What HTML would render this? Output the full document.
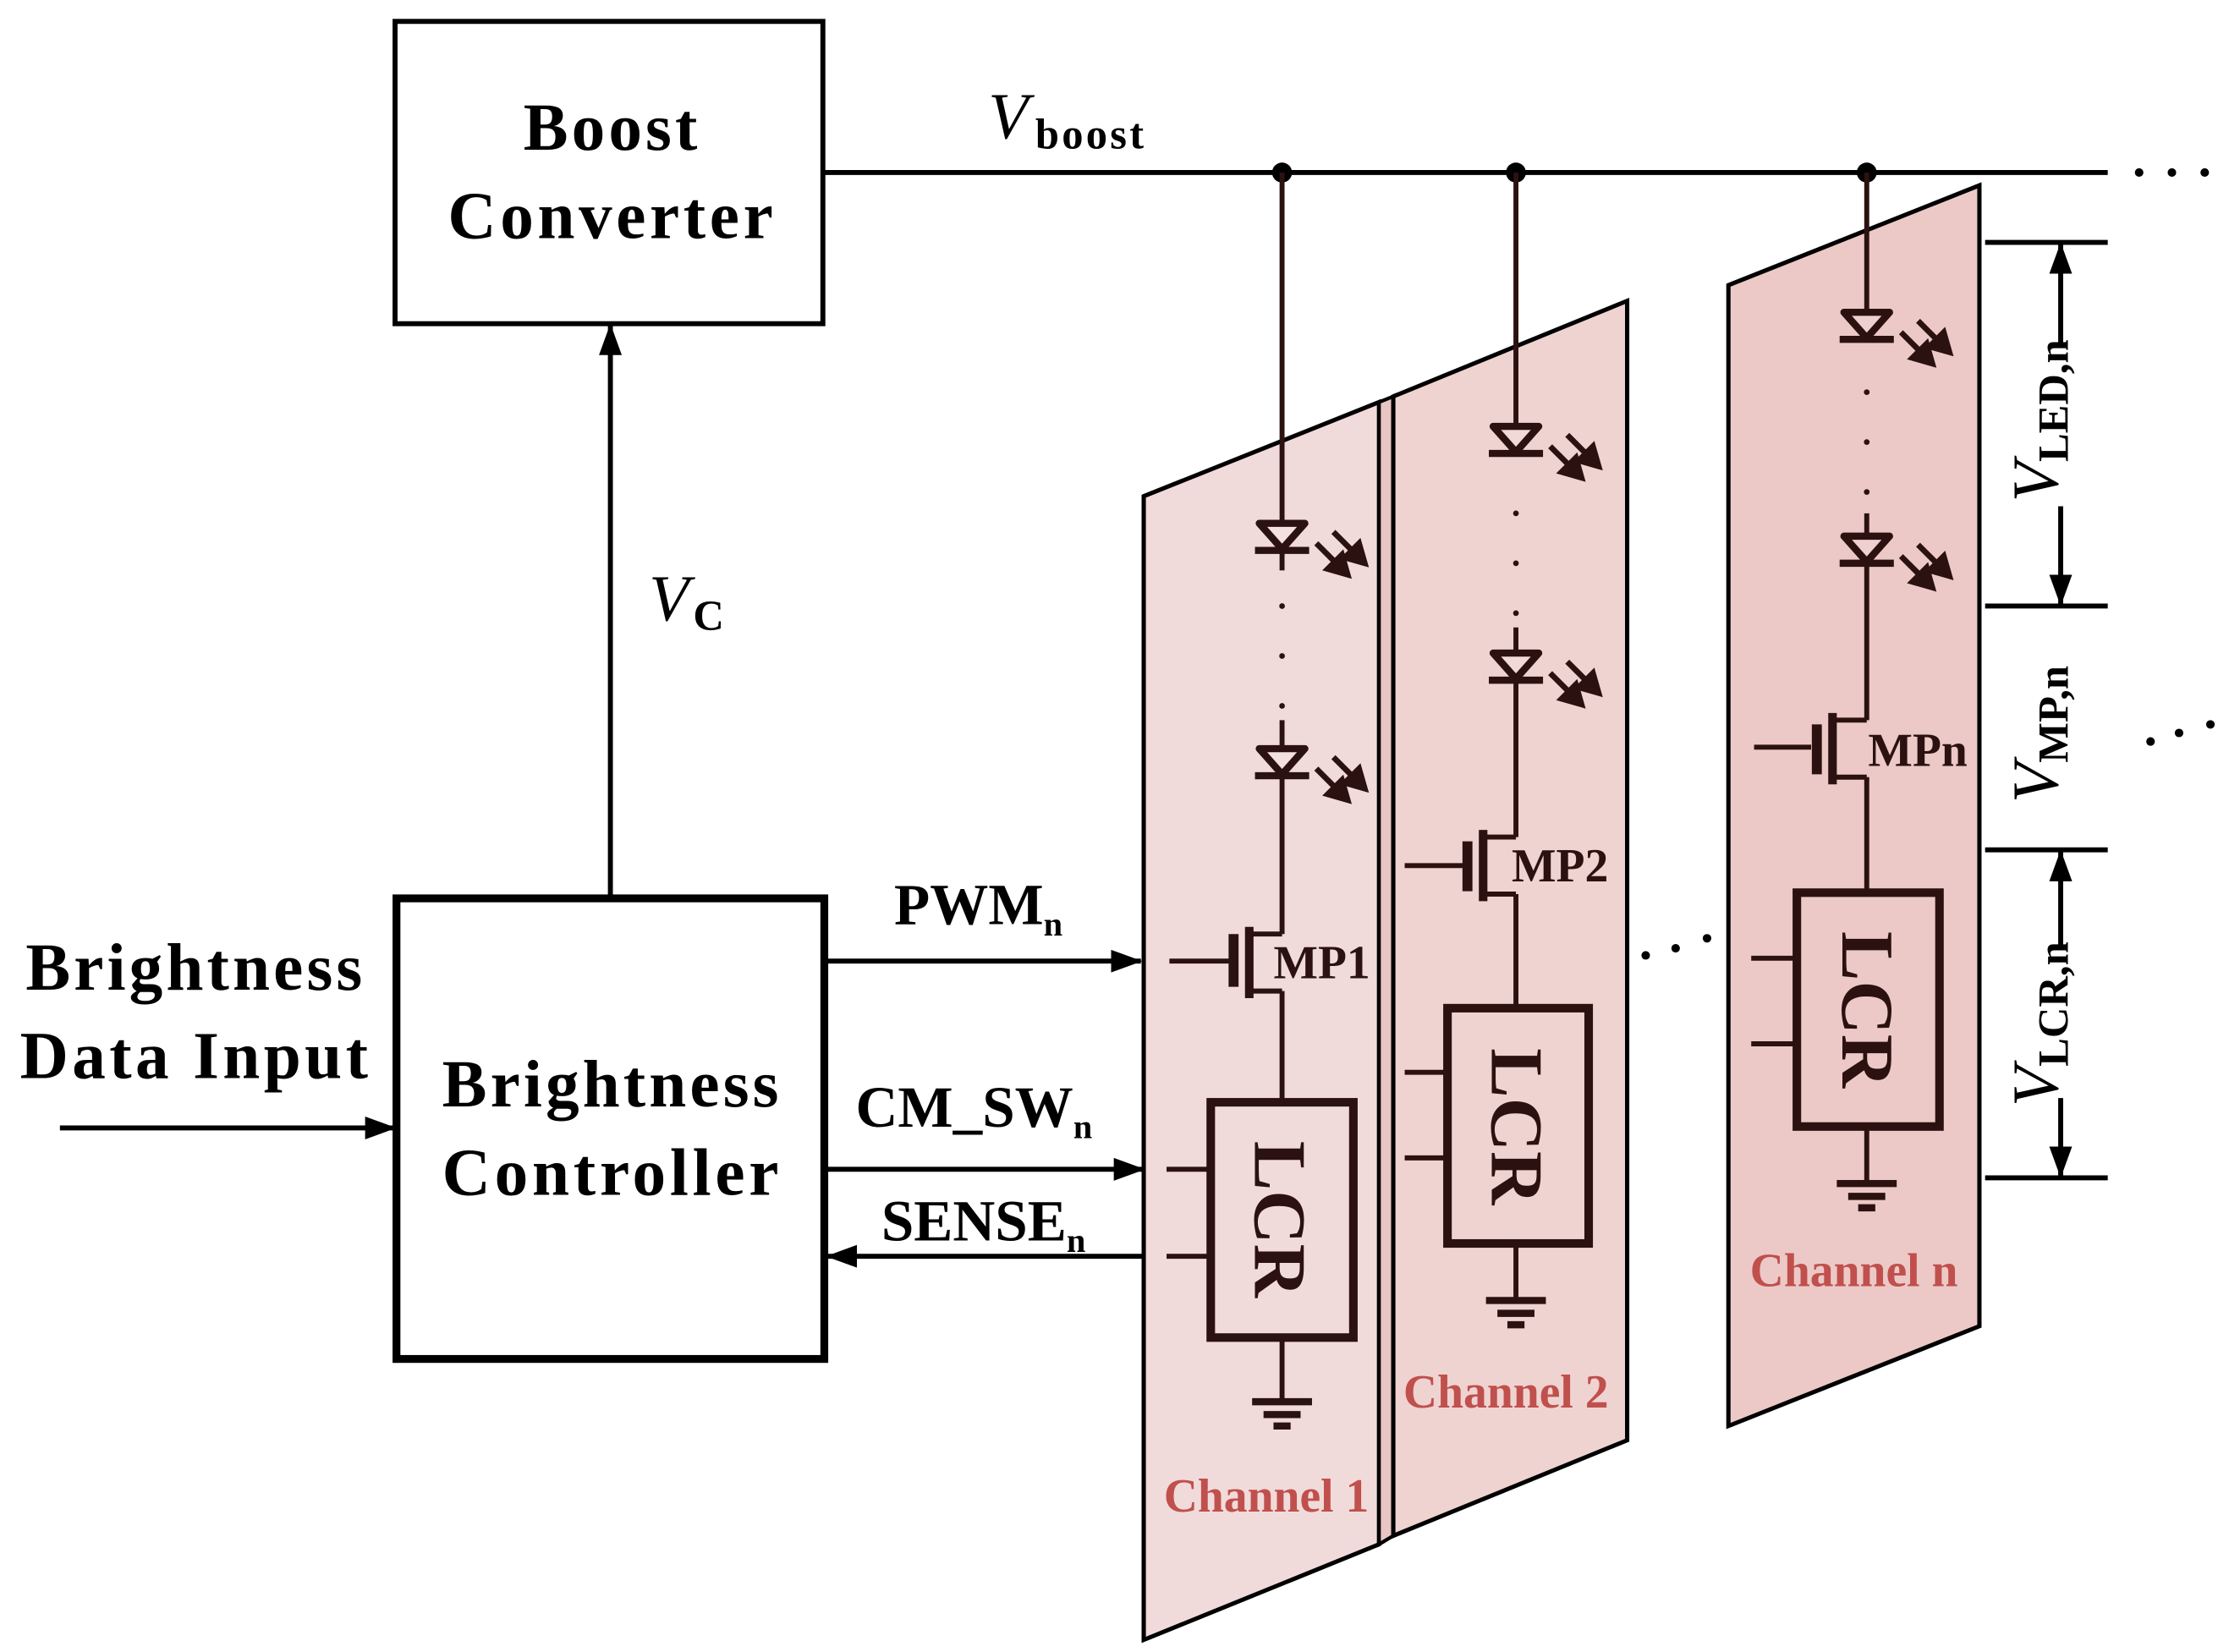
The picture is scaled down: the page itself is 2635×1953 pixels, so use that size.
<!DOCTYPE html>
<html><head><style>html,body{margin:0;padding:0;background:#fff}svg{display:block}</style></head>
<body>
<svg width="2635" height="1953" viewBox="0 0 1563 1158.5" xmlns="http://www.w3.org/2000/svg" font-family="Liberation Serif, serif" font-weight="bold">
<defs>
<g id="led">
 <polygon points="-16,2 16,2 0,20" fill="#fff" fill-opacity="0.15" stroke="#2b1210" stroke-width="5" stroke-linejoin="round"/>
 <line x1="-19" y1="21" x2="19" y2="21" stroke="#2b1210" stroke-width="5"/>
 <g stroke="#2b1210" stroke-width="4" fill="#2b1210">
  <line x1="24" y1="16" x2="38" y2="30"/><polygon points="46,38 32,34 42,24"/>
  <line x1="36" y1="8" x2="50" y2="22"/><polygon points="58,30 44,26 54,16"/>
 </g>
</g>
<g id="gnd" stroke="#2b1210" stroke-width="5">
 <line x1="-21" y1="0" x2="21" y2="0"/><line x1="-13" y1="9" x2="13" y2="9"/><line x1="-6" y1="17" x2="6" y2="17"/>
</g>
<marker id="ah" markerWidth="22" markerHeight="16" refX="21" refY="8" orient="auto" markerUnits="userSpaceOnUse" viewBox="0 0 22 16"><polygon points="0,0 22,8 0,16" fill="#000"/></marker>
</defs>

<!-- panels -->
<polygon points="802,348 967,282 967,1083 802,1150" fill="#f1dbda" stroke="#000" stroke-width="3"/>
<polygon points="967,282 977,278 977,1077 967,1083" fill="#e8c6c4" stroke="#000" stroke-width="2.5"/>
<polygon points="977,278 1141,211 1141,1010 977,1077" fill="#efd3d1" stroke="#000" stroke-width="3"/>
<polygon points="1212,200 1388,130 1388,930 1212,1000" fill="#ecc9c7" stroke="#000" stroke-width="3"/>

<!-- boxes -->
<rect x="277" y="15" width="300" height="212" fill="#fff" stroke="#000" stroke-width="3.5"/>
<text x="428" y="105" font-size="47" text-anchor="middle" textLength="122">Boost</text>
<text x="428" y="167" font-size="47" text-anchor="middle" textLength="228">Converter</text>
<rect x="278" y="630" width="300" height="323" fill="#fff" stroke="#000" stroke-width="5.5"/>
<text x="428" y="776" font-size="47" text-anchor="middle" textLength="236">Brightness</text>
<text x="428" y="838" font-size="47" text-anchor="middle" textLength="236">Controller</text>
<text x="136" y="694" font-size="47" text-anchor="middle" textLength="236">Brightness</text>
<text x="136" y="756" font-size="47" text-anchor="middle" textLength="244">Data Input</text>

<g stroke="#000" stroke-width="3.5" fill="none">
 <line x1="577" y1="121" x2="1478" y2="121"/>
 <line x1="428" y1="628" x2="428" y2="228" marker-end="url(#ah)"/>
 <line x1="42" y1="791" x2="277" y2="791" marker-end="url(#ah)"/>
 <line x1="580" y1="674" x2="800" y2="674" marker-end="url(#ah)"/>
 <line x1="580" y1="820" x2="802" y2="820" marker-end="url(#ah)"/>
 <line x1="802" y1="881" x2="580" y2="881" marker-end="url(#ah)"/>
</g>
<g fill="#000"><circle cx="899" cy="121" r="7"/><circle cx="1063" cy="121" r="7"/><circle cx="1309" cy="121" r="7"/>
<circle cx="1500" cy="121" r="3"/><circle cx="1523" cy="121" r="3"/><circle cx="1546" cy="121" r="3"/>
<circle cx="1508" cy="520" r="3"/><circle cx="1528" cy="514" r="3"/><circle cx="1550" cy="508" r="3"/>
<circle cx="1154" cy="670" r="3"/><circle cx="1175" cy="665" r="3"/><circle cx="1197" cy="658" r="3"/>
</g>

<text x="693" y="97" font-size="46" font-style="italic" font-weight="normal">V</text>
<text x="726" y="104" font-size="30" textLength="76">boost</text>
<text x="455" y="435" font-size="46" font-style="italic" font-weight="normal">V</text>
<text x="486" y="442" font-size="30">C</text>
<text x="627" y="648" font-size="41">PWM<tspan font-size="24" dy="8">n</tspan></text>
<text x="600" y="790" font-size="41">CM_SW<tspan font-size="24" dy="8">n</tspan></text>
<text x="618" y="870" font-size="41">SENSE<tspan font-size="24" dy="8">n</tspan></text>

<!-- Channel 1 -->
<g stroke="#2b1210" stroke-width="3.5" fill="none">
 <line x1="899" y1="121" x2="899" y2="367"/>
 <line x1="899" y1="387" x2="899" y2="400"/>
 <line x1="899" y1="505" x2="899" y2="524"/>
 <line x1="899" y1="545" x2="899" y2="655"/><line x1="877" y1="655" x2="899" y2="655"/>
 <line x1="877" y1="695" x2="899" y2="695"/><line x1="899" y1="695" x2="899" y2="773"/>
 <line x1="820" y1="674" x2="862" y2="674"/>
 <line x1="818" y1="820" x2="849" y2="820"/><line x1="818" y1="881" x2="849" y2="881"/>
 <line x1="899" y1="938" x2="899" y2="983"/>
</g>
<line x1="865" y1="655" x2="865" y2="692" stroke="#2b1210" stroke-width="7"/>
<line x1="876" y1="650" x2="876" y2="700" stroke="#2b1210" stroke-width="6"/>
<rect x="849" y="773" width="100" height="165" fill="none" stroke="#2b1210" stroke-width="6"/>
<use href="#led" x="899" y="365"/><use href="#led" x="899" y="523"/>
<use href="#gnd" x="899" y="983"/>
<g fill="#2b1210"><circle cx="899" cy="425" r="2"/><circle cx="899" cy="460" r="2"/><circle cx="899" cy="495" r="2"/></g>
<text x="893" y="686" font-size="33" fill="#2b1210">MP1</text>
<text transform="translate(880,855) rotate(90)" font-size="52" text-anchor="middle" fill="#2b1210">LCR</text>
<text x="888" y="1060" font-size="33" fill="#c0504d" text-anchor="middle">Channel 1</text>

<!-- Channel 2 -->
<g stroke="#2b1210" stroke-width="3.5" fill="none">
 <line x1="1063" y1="121" x2="1063" y2="298"/>
 <line x1="1063" y1="440" x2="1063" y2="457"/>
 <line x1="1063" y1="478" x2="1063" y2="587"/><line x1="1040" y1="587" x2="1063" y2="587"/>
 <line x1="1040" y1="627" x2="1063" y2="627"/><line x1="1063" y1="627" x2="1063" y2="707"/>
 <line x1="985" y1="607" x2="1026" y2="607"/>
 <line x1="985" y1="752" x2="1015" y2="752"/><line x1="985" y1="812" x2="1015" y2="812"/>
 <line x1="1063" y1="872" x2="1063" y2="912"/>
</g>
<line x1="1029" y1="590" x2="1029" y2="625" stroke="#2b1210" stroke-width="7"/>
<line x1="1040" y1="582" x2="1040" y2="632" stroke="#2b1210" stroke-width="6"/>
<rect x="1015" y="707" width="99" height="165" fill="none" stroke="#2b1210" stroke-width="6"/>
<use href="#led" x="1063" y="297"/><use href="#led" x="1063" y="456"/>
<use href="#gnd" x="1063" y="912"/>
<g fill="#2b1210"><circle cx="1063" cy="360" r="2"/><circle cx="1063" cy="395" r="2"/><circle cx="1063" cy="430" r="2"/></g>
<text x="1060" y="618" font-size="33" fill="#2b1210">MP2</text>
<text transform="translate(1046,790) rotate(90)" font-size="52" text-anchor="middle" fill="#2b1210">LCR</text>
<text x="1056" y="987" font-size="33" fill="#c0504d" text-anchor="middle">Channel 2</text>

<!-- Channel n -->
<g stroke="#2b1210" stroke-width="3.5" fill="none">
 <line x1="1309" y1="121" x2="1309" y2="218"/>
 <line x1="1309" y1="360" x2="1309" y2="375"/>
 <line x1="1309" y1="396" x2="1309" y2="505"/><line x1="1285" y1="505" x2="1309" y2="505"/>
 <line x1="1285" y1="545" x2="1309" y2="545"/><line x1="1309" y1="545" x2="1309" y2="626"/>
 <line x1="1230" y1="524" x2="1270" y2="524"/>
 <line x1="1228" y1="672" x2="1260" y2="672"/><line x1="1228" y1="732" x2="1260" y2="732"/>
 <line x1="1309" y1="790" x2="1309" y2="830"/>
</g>
<line x1="1274" y1="508" x2="1274" y2="543" stroke="#2b1210" stroke-width="7"/>
<line x1="1285" y1="500" x2="1285" y2="550" stroke="#2b1210" stroke-width="6"/>
<rect x="1260" y="626" width="100" height="164" fill="none" stroke="#2b1210" stroke-width="6"/>
<use href="#led" x="1309" y="217"/><use href="#led" x="1309" y="374"/>
<use href="#gnd" x="1309" y="830"/>
<g fill="#2b1210"><circle cx="1309" cy="275" r="2"/><circle cx="1309" cy="310" r="2"/><circle cx="1309" cy="345" r="2"/></g>
<text x="1310" y="537" font-size="33" fill="#2b1210">MPn</text>
<text transform="translate(1292,708) rotate(90)" font-size="52" text-anchor="middle" fill="#2b1210">LCR</text>
<text x="1300" y="902" font-size="33" fill="#c0504d" text-anchor="middle">Channel n</text>

<!-- dimensions -->
<g stroke="#000" stroke-width="3.5">
 <line x1="1392" y1="170" x2="1478" y2="170"/><line x1="1392" y1="425" x2="1478" y2="425"/>
 <line x1="1392" y1="596" x2="1478" y2="596"/><line x1="1392" y1="826" x2="1478" y2="826"/>
 <line x1="1445" y1="240" x2="1445" y2="171" marker-end="url(#ah)"/>
 <line x1="1445" y1="355" x2="1445" y2="424" marker-end="url(#ah)"/>
 <line x1="1445" y1="665" x2="1445" y2="597" marker-end="url(#ah)"/>
 <line x1="1445" y1="770" x2="1445" y2="825" marker-end="url(#ah)"/>
</g>
<text transform="translate(1443,352) rotate(-90)" font-size="46"><tspan font-style="italic" font-weight="normal">V</tspan><tspan font-size="30" dy="7">LED,n</tspan></text>
<text transform="translate(1443,563) rotate(-90)" font-size="46"><tspan font-style="italic" font-weight="normal">V</tspan><tspan font-size="30" dy="7">MP,n</tspan></text>
<text transform="translate(1443,776) rotate(-90)" font-size="46"><tspan font-style="italic" font-weight="normal">V</tspan><tspan font-size="30" dy="7">LCR,n</tspan></text>
</svg>
</body></html>
